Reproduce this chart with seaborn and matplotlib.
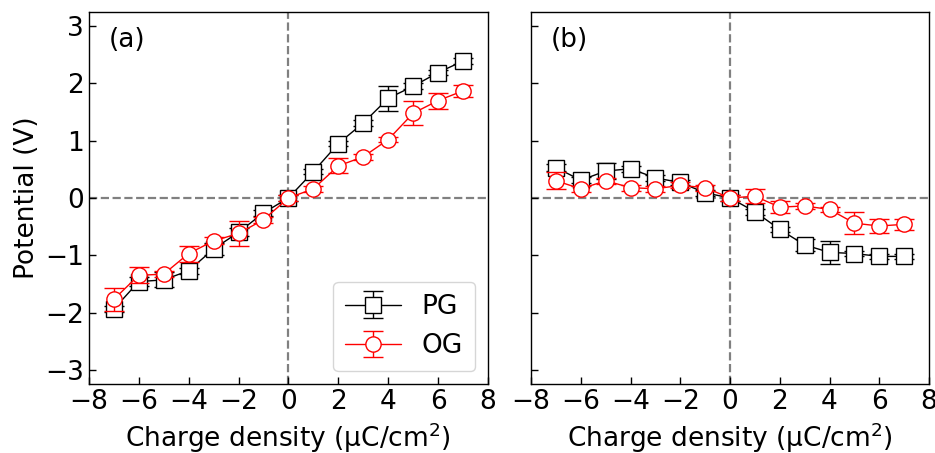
import numpy as np
import matplotlib
matplotlib.use("Agg")
import matplotlib.pyplot as plt
import seaborn as sns

x = [-7, -6, -5, -4, -3, -2, -1, 0, 1, 2, 3, 4, 5, 6, 7]

pg_a = [-1.94, -1.46, -1.43, -1.27, -0.89, -0.60, -0.26, 0.0, 0.46, 0.95, 1.31, 1.74, 1.95, 2.19, 2.39]
pg_a_err = [0.05, 0.08, 0.13, 0.05, 0.10, 0.07, 0.05, 0.05, 0.05, 0.05, 0.05, 0.22, 0.05, 0.05, 0.05]
og_a = [-1.77, -1.35, -1.33, -0.97, -0.75, -0.62, -0.38, 0.0, 0.16, 0.56, 0.72, 1.02, 1.48, 1.70, 1.87]
og_a_err = [0.20, 0.14, 0.05, 0.14, 0.06, 0.21, 0.05, 0.05, 0.05, 0.13, 0.05, 0.05, 0.21, 0.14, 0.10]

pg_b = [0.53, 0.31, 0.47, 0.51, 0.35, 0.27, 0.09, 0.0, -0.24, -0.55, -0.82, -0.95, -0.97, -1.02, -1.02]
pg_b_err = [0.06, 0.05, 0.14, 0.05, 0.05, 0.05, 0.05, 0.05, 0.05, 0.05, 0.11, 0.20, 0.05, 0.05, 0.05]
og_b = [0.30, 0.16, 0.30, 0.18, 0.16, 0.22, 0.18, 0.0, 0.03, -0.16, -0.14, -0.20, -0.44, -0.49, -0.46]
og_b_err = [0.15, 0.05, 0.05, 0.05, 0.05, 0.05, 0.05, 0.05, 0.12, 0.10, 0.05, 0.05, 0.19, 0.12, 0.10]

sns.set_theme(style="ticks")
plt.rcParams['font.family'] = ['DejaVu Sans']
plt.rcParams['mathtext.default'] = 'regular'
for k in ['text.color', 'axes.labelcolor', 'xtick.color', 'ytick.color', 'axes.edgecolor']:
    plt.rcParams[k] = 'black'

fig = plt.figure(figsize=(9.35, 4.53), dpi=100)
ax1 = fig.add_axes([0.095, 0.152, 0.427, 0.822])
ax2 = fig.add_axes([0.568, 0.152, 0.4256, 0.822], sharey=ax1)

fs = 19
panels = [(ax1, pg_a, pg_a_err, og_a, og_a_err, "(a)"),
          (ax2, pg_b, pg_b_err, og_b, og_b_err, "(b)")]
for ax, pg, pge, og, oge, lab in panels:
    ax.axhline(0, color="gray", ls="--", lw=1.6, zorder=0)
    ax.axvline(0, color="gray", ls="--", lw=1.6, zorder=0)
    ax.errorbar(x, pg, yerr=pge, color="black", marker="s", ms=11, mfc="white",
                mec="black", mew=1.0, lw=1.0, capsize=7, elinewidth=1.0, label="PG", zorder=3)
    ax.errorbar(x, og, yerr=oge, color="red", marker="o", ms=11, mfc="white",
                mec="red", mew=1.0, lw=1.0, capsize=7, elinewidth=1.0, label="OG", zorder=4)
    ax.set_xlim(-8, 8)
    ax.set_ylim(-3.25, 3.25)
    ax.set_xticks(np.arange(-8, 9, 2))
    ax.set_yticks(np.arange(-3, 4, 1))
    ax.tick_params(direction="in", labelsize=fs, length=5, width=1, colors="black")
    ax.set_xlabel("Charge density (μC/cm$^2$)", fontsize=fs)
    ax.text(0.05, 0.925, lab, transform=ax.transAxes, fontsize=fs, va="center", ha="left")
    for s in ax.spines.values():
        s.set_linewidth(1.0)
        s.set_color("black")

ax1.set_ylabel("Potential (V)", fontsize=fs)
plt.setp(ax2.get_yticklabels(), visible=False)
ax1.legend(loc="lower right", fontsize=fs, handlelength=2.1, borderpad=0.45, labelspacing=0.5)

fig.savefig("out.png", dpi=100)
